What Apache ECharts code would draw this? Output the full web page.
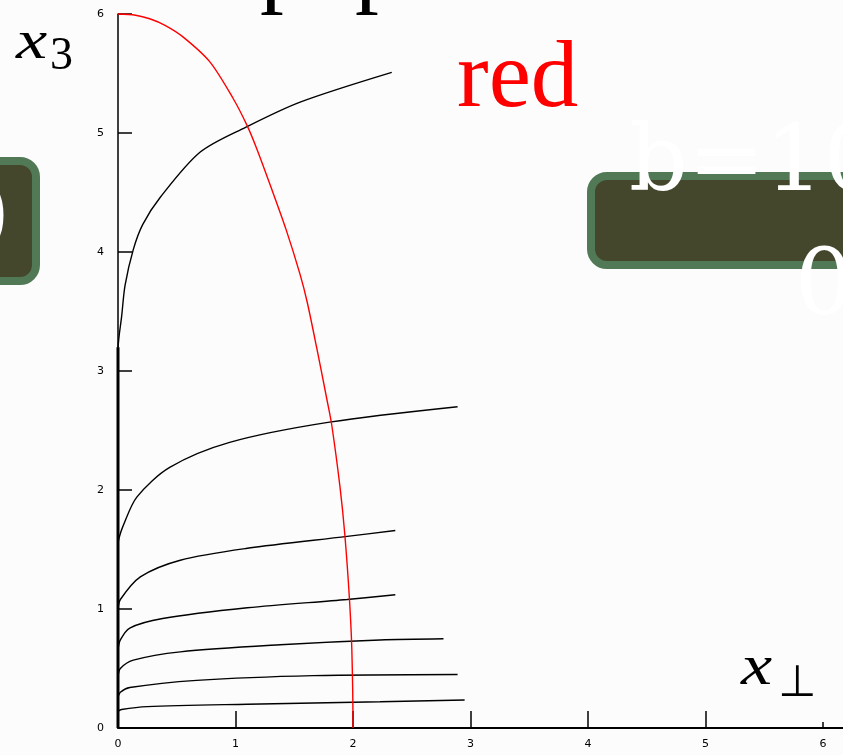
<!DOCTYPE html>
<html>
<head>
<meta charset="utf-8">
<script src="https://cdn.jsdelivr.net/npm/echarts@6/dist/echarts.min.js"></script>
<style>
  html, body { margin: 0; padding: 0; background: #fcfcfc; }
  #chart { width: 843px; height: 755px; }
</style>
</head>
<body>
<div id="chart"></div>
<script>
// Axis ticks
const xTickValues = [0, 1, 2, 3, 4, 5];
const xLabelValues = [0, 1, 2, 3, 4, 5, 6];
const yTickValues = [0, 1, 2, 3, 4, 5, 6];

// Trajectories (x_perp, x_3); each starts on the x_3 axis
const stem = [[0, 0], [0, 3.2]];
const curve1 = [[0, 3.2], [0.01, 3.3], [0.03, 3.45], [0.06, 3.72], [0.13, 4.02], [0.21, 4.23], [0.36, 4.46], [0.70, 4.84], [1.09, 5.05], [1.55, 5.26], [2.33, 5.51]];
const curve2 = [[0, 1.55], [0.01, 1.6], [0.04, 1.69], [0.16, 1.94], [0.44, 2.19], [0.95, 2.40], [1.80, 2.57], [2.89, 2.70]];
const curve3 = [[0, 1.0], [0.02, 1.08], [0.19, 1.27], [0.53, 1.41], [1.10, 1.51], [1.95, 1.61], [2.36, 1.66]];
const curve4 = [[0, 0.66], [0.02, 0.74], [0.10, 0.84], [0.38, 0.92], [1.10, 1.01], [1.95, 1.08], [2.36, 1.12]];
const curve5 = [[0, 0.43], [0.02, 0.5], [0.13, 0.57], [0.53, 0.64], [1.38, 0.70], [2.23, 0.74], [2.77, 0.75]];
const curve6 = [[0, 0.26], [0.02, 0.3], [0.10, 0.34], [0.67, 0.40], [1.66, 0.44], [2.89, 0.45]];
const curve7 = [[0, 0.14], [0.03, 0.155], [0.25, 0.18], [1.10, 0.20], [2.23, 0.22], [2.95, 0.235]];
const blackCurves = [curve1, curve2, curve3, curve4, curve5, curve6, curve7];

// Boundary curve (red)
const redCurve = [[0, 6.0], [0.15, 5.99], [0.27, 5.96], [0.40, 5.905], [0.55, 5.81], [0.78, 5.60], [0.98, 5.29], [1.10, 5.06], [1.18, 4.87], [1.30, 4.55], [1.43, 4.19], [1.55, 3.81], [1.61, 3.58], [1.69, 3.20], [1.78, 2.75], [1.82, 2.54], [1.89, 2.02], [1.93, 1.63], [1.97, 1.08], [1.99, 0.66], [2.0, 0.01], [2.0, 0]];

const chart = echarts.init(document.getElementById('chart'), null, { renderer: 'canvas' });

const axisFont = { fontFamily: 'DejaVu Sans', fontSize: 11, color: '#000' };

const series = [];
series.push({
  type: 'line', data: stem, showSymbol: false, clip: false,
  lineStyle: { color: '#000', width: 3 }, z: 3
});
blackCurves.forEach(function (c) {
  series.push({
    type: 'line', data: c, showSymbol: false, clip: false,
    smooth: 0.3,
    lineStyle: { color: '#000', width: 1.4 }, z: 3
  });
});
series.push({
  type: 'line', data: redCurve, showSymbol: false, clip: false,
  smooth: 0.3,
  lineStyle: { color: '#ff0000', width: 1.4 }, z: 4
});

const boxFill = '#45472d';
const boxBorder = '#527956';
const panelFont = '92px "DejaVu Serif"';

function label(x, y, text, font, fill, z, sx) {
  return { type: 'text', silent: true, z: z || 10, x: x, y: y, scaleX: sx || 1,
    style: { x: 0, y: 0, text: text, font: font, fill: fill, verticalAlign: 'middle', align: 'left' } };
}

chart.setOption({
  backgroundColor: '#fcfcfc',
  animation: false,
  grid: { left: 118, right: 0, top: 14, bottom: 27, containLabel: false },
  xAxis: [{
    type: 'value', min: 0, max: 725 / 117.5, interval: 1,
    splitLine: { show: false },
    axisLine: { show: true, lineStyle: { color: '#000', width: 2 } },
    axisTick: { show: true, inside: true, length: 17, customValues: xTickValues, lineStyle: { color: '#000', width: 1.5 } },
    axisLabel: Object.assign({ margin: 11, customValues: xLabelValues }, axisFont)
  }, {
    // short closing tick at 6
    type: 'value', min: 0, max: 725 / 117.5, interval: 1, position: 'bottom',
    splitLine: { show: false },
    axisLine: { show: false },
    axisTick: { show: true, inside: true, length: 6, customValues: [6], lineStyle: { color: '#000', width: 1.5 } },
    axisLabel: { show: false }
  }],
  yAxis: {
    type: 'value', min: 0, max: 6, interval: 1,
    splitLine: { show: false },
    axisLine: { show: true, lineStyle: { color: '#000', width: 1.5 } },
    axisTick: { show: true, inside: true, length: 14, customValues: yTickValues, lineStyle: { color: '#000', width: 1.5 } },
    axisLabel: Object.assign({ margin: 14 }, axisFont)
  },
  series: series,
  graphic: [
    // axis titles
    label(16, 44, 'x', 'italic 54px "Liberation Serif"', '#000', 10, 1.3),
    label(50, 57, '3', '46px "Liberation Serif"', '#000'),
    label(741, 669, 'x', 'italic 56px "Liberation Serif"', '#000', 10, 1.25),
    label(778, 685, '⊥', '44px "DejaVu Sans"', '#000'),
    // heading fragments
    label(260, -30, 'p', '95px "Liberation Serif"', '#000'),
    label(355, -30, 'p', '95px "Liberation Serif"', '#000'),
    label(457, 81, 'red', '95px "Liberation Serif"', '#ff0000'),
    // left panel
    { type: 'rect', silent: true, z: 8,
      shape: { x: -40, y: 161, width: 76, height: 120, r: 16 },
      style: { fill: boxFill, stroke: boxBorder, lineWidth: 8 } },
    label(-49, 225, '0', panelFont, '#ffffff', 9),
    // right panel
    { type: 'rect', silent: true, z: 8,
      shape: { x: 591, y: 176, width: 320, height: 89, r: 16 },
      style: { fill: boxFill, stroke: boxBorder, lineWidth: 8 } },
    label(629, 166, 'b=10', panelFont, '#ffffff', 9),
    label(795, 290, '0', panelFont, '#ffffff', 9)
  ]
});
</script>
</body>
</html>
